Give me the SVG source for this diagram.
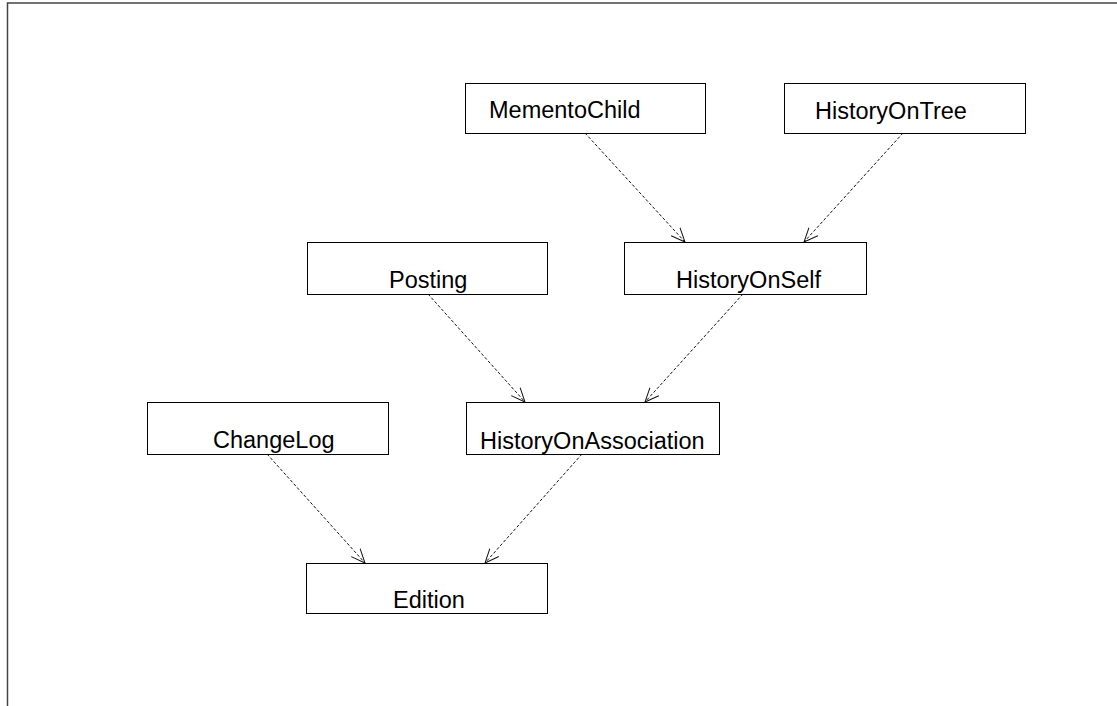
<svg xmlns="http://www.w3.org/2000/svg" width="1117" height="706" viewBox="0 0 1117 706">
  <style>
    .box { fill: #ffffff; stroke: #000000; stroke-width: 1; }
    .label { font-family: "Liberation Sans", Arial, sans-serif; font-size: 23.5px; fill: #000000; }
    .edge { fill: none; stroke: #111111; stroke-width: 1; stroke-dasharray: 3 2; }
    .frame { fill: none; stroke: #444444; stroke-width: 1.5; }
  </style>
  <defs>
    <marker id="open-arrow" viewBox="0 0 15 13" refX="14" refY="6.5" markerWidth="15" markerHeight="13" markerUnits="userSpaceOnUse" orient="auto">
      <path d="M0,0.5 L14,6.5 L0,12.5" fill="none" stroke="#111111" stroke-width="1"/>
    </marker>
  </defs>

  <rect width="1117" height="706" fill="#ffffff"/>
  <!-- page frame: top and left rules only -->
  <path class="frame" d="M7.5,706 L7.5,3 L1117,3"/>

  <!-- dependency connectors -->
  <g id="connectors">
    <line class="edge" x1="585" y1="133" x2="685" y2="242" marker-end="url(#open-arrow)"/>
    <line class="edge" x1="903" y1="133" x2="804" y2="242" marker-end="url(#open-arrow)"/>
    <line class="edge" x1="428" y1="294" x2="525" y2="402" marker-end="url(#open-arrow)"/>
    <line class="edge" x1="743" y1="294" x2="645" y2="402" marker-end="url(#open-arrow)"/>
    <line class="edge" x1="267" y1="454" x2="365" y2="563" marker-end="url(#open-arrow)"/>
    <line class="edge" x1="582" y1="454" x2="485" y2="563" marker-end="url(#open-arrow)"/>
  </g>

  <g id="MementoChild">
    <rect class="box" x="465.5" y="83.5" width="240" height="50"/>
    <text class="label" x="489" y="118">MementoChild</text>
  </g>
  <g id="HistoryOnTree">
    <rect class="box" x="784.5" y="83.5" width="241" height="50"/>
    <text class="label" x="815" y="119">HistoryOnTree</text>
  </g>
  <g id="Posting">
    <rect class="box" x="307.5" y="242.5" width="240" height="52"/>
    <text class="label" x="389" y="288">Posting</text>
  </g>
  <g id="HistoryOnSelf">
    <rect class="box" x="624.5" y="242.5" width="242" height="52"/>
    <text class="label" x="676" y="288">HistoryOnSelf</text>
  </g>
  <g id="ChangeLog">
    <rect class="box" x="147.5" y="402.5" width="241" height="52"/>
    <text class="label" x="213" y="448">ChangeLog</text>
  </g>
  <g id="HistoryOnAssociation">
    <rect class="box" x="466.5" y="402.5" width="253" height="52"/>
    <text class="label" x="480" y="449">HistoryOnAssociation</text>
  </g>
  <g id="Edition">
    <rect class="box" x="306.5" y="563.5" width="241" height="50"/>
    <text class="label" x="393" y="608">Edition</text>
  </g>
</svg>
